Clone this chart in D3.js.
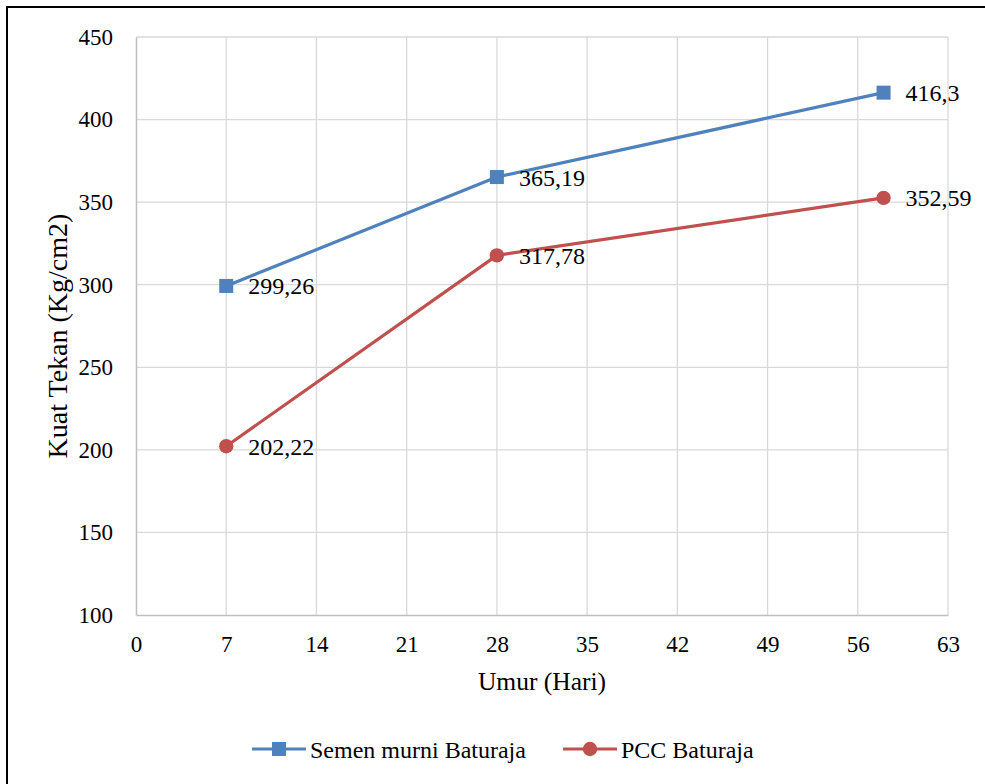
<!DOCTYPE html>
<html>
<head>
<meta charset="utf-8">
<script src="https://cdn.jsdelivr.net/npm/d3@7"></script>
<style>
  html, body { margin: 0; padding: 0; background: #fff; }
  svg { display: block; }
</style>
</head>
<body>
<svg id="chart" width="985" height="784"></svg>
<script>
// Compressive strength (Kg/cm2) by curing age (days)
const ages = [7, 28, 58];
const semenMurni = [299.26, 365.19, 416.3];
const pcc = [202.22, 317.78, 352.59];
const seriesNames = ["Semen murni Baturaja", "PCC Baturaja"];
const seriesColors = ["#4f81bd", "#c0504d"];
const xTicks = [0, 7, 14, 21, 28, 35, 42, 49, 56, 63];
const yTicks = [100, 150, 200, 250, 300, 350, 400, 450];

const FONT = "'Liberation Serif'";
const svg = d3.select("#chart");
const W = 985, H = 784;
const plot = { left: 136, right: 948, top: 37, bottom: 615 };

// outer frame
svg.append("rect")
  .attr("x", 7).attr("y", 7)
  .attr("width", W + 10).attr("height", H + 10)
  .attr("fill", "#fff").attr("stroke", "#000").attr("stroke-width", 2);

const x = d3.scaleLinear().domain([0, 63]).range([plot.left, plot.right]);
const y = d3.scaleLinear().domain([100, 450]).range([plot.bottom, plot.top]);

// gridlines
const grid = svg.append("g");
grid.selectAll(".gx").data(xTicks.slice(1)).join("line")
  .attr("x1", d => x(d)).attr("x2", d => x(d))
  .attr("y1", plot.top).attr("y2", plot.bottom)
  .attr("stroke", "#d9d9d9").attr("stroke-width", 1.3);
grid.selectAll(".gy").data(yTicks.slice(1)).join("line")
  .attr("x1", plot.left).attr("x2", plot.right)
  .attr("y1", d => y(d)).attr("y2", d => y(d))
  .attr("stroke", "#d9d9d9").attr("stroke-width", 1.3);

// axes
const xAxis = svg.append("g")
  .attr("transform", `translate(0,${plot.bottom})`)
  .call(d3.axisBottom(x).tickValues(xTicks).tickSize(0).tickPadding(21));
xAxis.attr("font-family", null).attr("font-size", null);
xAxis.select(".domain").attr("stroke", "#bfbfbf").attr("stroke-width", 1.5);
xAxis.selectAll("text").attr("fill", "#000")
  .style("font-family", FONT).style("font-size", "23px");

const yAxis = svg.append("g")
  .attr("transform", `translate(${plot.left},0)`)
  .call(d3.axisLeft(y).tickValues(yTicks).tickSize(0).tickPadding(23));
yAxis.attr("font-family", null).attr("font-size", null);
yAxis.select(".domain").attr("stroke", "#bfbfbf").attr("stroke-width", 1.5);
yAxis.selectAll("text").attr("fill", "#000")
  .style("font-family", FONT).style("font-size", "23px");

// axis titles
svg.append("text")
  .attr("x", x(31.5)).attr("y", 690)
  .attr("text-anchor", "middle")
  .style("font-family", FONT).style("font-size", "25.5px")
  .text("Umur (Hari)");
svg.append("text")
  .attr("transform", "translate(67,336) rotate(-90)")
  .attr("text-anchor", "middle")
  .style("font-family", FONT).style("font-size", "28px")
  .text("Kuat Tekan (Kg/cm2)");

const line = d3.line().x(d => x(d[0])).y(d => y(d[1]));
const fmt = v => String(v).replace(".", ",");

const series = [semenMurni, pcc];
series.forEach((vals, i) => {
  const pts = ages.map((a, j) => [a, vals[j]]);
  const g = svg.append("g");
  g.append("path").datum(pts)
    .attr("d", line).attr("fill", "none")
    .attr("stroke", seriesColors[i]).attr("stroke-width", 3.2)
    .attr("stroke-linejoin", "round");
  if (i === 0) {
    g.selectAll("rect").data(pts).join("rect")
      .attr("x", d => x(d[0]) - 7).attr("y", d => y(d[1]) - 7)
      .attr("width", 14).attr("height", 14).attr("fill", seriesColors[i]);
  } else {
    g.selectAll("circle").data(pts).join("circle")
      .attr("cx", d => x(d[0])).attr("cy", d => y(d[1]))
      .attr("r", 7.2).attr("fill", seriesColors[i]);
  }
  g.selectAll("text").data(pts).join("text")
    .attr("x", d => x(d[0]) + 22).attr("y", d => y(d[1]) + 8.5)
    .attr("fill", "#000")
    .style("font-family", FONT).style("font-size", "24px")
    .text(d => fmt(d[1]));
});

// legend
const legendItems = [
  { x0: 252, name: seriesNames[0], color: seriesColors[0], shape: "square" },
  { x0: 563, name: seriesNames[1], color: seriesColors[1], shape: "circle" }
];
const ly = 749;
legendItems.forEach(it => {
  const g = svg.append("g");
  g.append("line").attr("x1", it.x0).attr("x2", it.x0 + 54)
    .attr("y1", ly).attr("y2", ly)
    .attr("stroke", it.color).attr("stroke-width", 3.2);
  if (it.shape === "square") {
    g.append("rect").attr("x", it.x0 + 27 - 7).attr("y", ly - 7)
      .attr("width", 14).attr("height", 14).attr("fill", it.color);
  } else {
    g.append("circle").attr("cx", it.x0 + 27).attr("cy", ly).attr("r", 7.2)
      .attr("fill", it.color);
  }
  g.append("text").attr("x", it.x0 + 58).attr("y", ly + 9)
    .style("font-family", FONT).style("font-size", "24px")
    .text(it.name);
});
</script>
</body>
</html>
